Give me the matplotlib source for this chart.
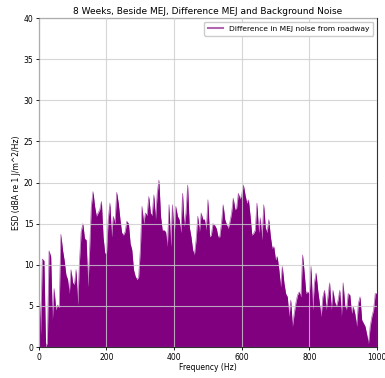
import numpy as np
import matplotlib
matplotlib.use("Agg")
import matplotlib.pyplot as plt

# Frequency bins (Hz) and the MEJ-minus-background energy spectral density (dBA)
freq_hz = np.arange(0, 1001, 5)

esd_0_175 = [8.2, 1.5, 10.7, 10.5, 0.0, 0.5, 11.7, 11.0, 3.3, 7.1,
             4.5, 5.1, 4.8, 13.7, 11.8, 10.5, 8.8, 8.2, 6.5, 9.4,
             7.8, 7.6, 9.4, 5.1, 10.4, 14.0, 15.0, 13.2, 13.0, 7.3,
             11.8, 17.1, 18.9, 17.1, 15.9, 16.3]
esd_180_355 = [16.7, 17.7, 13.4, 11.4, 11.4, 15.5, 17.5, 13.4, 15.9, 15.0,
               18.8, 17.5, 15.5, 13.9, 13.6, 14.0, 15.3, 15.0, 12.6, 11.8,
               9.4, 8.6, 8.2, 8.5, 11.8, 17.1, 15.0, 16.3, 16.0, 18.3,
               16.3, 16.0, 18.5, 15.5, 18.7, 20.3]
esd_360_535 = [15.9, 14.2, 14.2, 14.0, 12.2, 17.3, 12.2, 17.3, 13.4, 17.1,
               15.9, 15.5, 13.9, 18.7, 14.6, 16.3, 19.7, 14.6, 13.4, 11.8,
               11.2, 13.0, 15.9, 14.0, 16.3, 15.5, 15.5, 14.2, 17.9, 13.4,
               13.6, 15.0, 14.8, 14.4, 13.4, 13.4]
esd_540_710 = [15.0, 17.3, 15.5, 14.9, 14.4, 15.2, 16.3, 18.1, 16.7, 16.9,
               18.7, 18.0, 18.5, 19.7, 18.5, 17.5, 17.9, 15.9, 13.6, 13.8,
               14.2, 17.5, 13.9, 15.7, 13.0, 17.3, 14.5, 13.9, 15.5, 13.4,
               12.0, 12.2, 10.6, 11.0, 9.4]
esd_715_885 = [7.3, 9.8, 7.8, 6.5, 6.1, 3.7, 5.7, 2.5, 4.0, 5.3,
               6.3, 6.7, 6.1, 11.2, 9.0, 6.5, 6.7, 6.5, 9.8, 4.5,
               7.8, 9.0, 6.9, 5.3, 3.7, 6.1, 6.9, 4.5, 6.1, 7.8,
               4.5, 6.9, 5.5, 4.9, 5.7]
esd_890_1000 = [6.9, 3.7, 7.8, 5.0, 4.5, 6.5, 6.3, 4.1, 4.9, 4.0,
                2.5, 5.3, 6.1, 3.3, 2.9, 2.5, 1.5, 0.4, 2.5, 3.7,
                4.5, 6.5, 6.5]

esd_db = np.array(esd_0_175 + esd_180_355 + esd_360_535
                  + esd_540_710 + esd_715_885 + esd_890_1000)

fig = plt.figure(figsize=(3.85, 3.78), dpi=100)
ax = fig.add_axes([0.101, 0.082, 0.878, 0.870])

ax.plot(freq_hz, esd_db, color="purple", alpha=0.6, linewidth=0.5,
        label="Difference in MEJ noise from roadway")
ax.fill_between(freq_hz, esd_db, 0, color="purple", linewidth=0)

ax.set_xlim(0, 1000)
ax.set_ylim(0, 40)
ax.set_xticks([0, 200, 400, 600, 800, 1000])
ax.set_yticks(np.arange(0, 41, 5))
ax.grid(True, color="#cccccc", linewidth=0.8, alpha=0.8)
ax.set_axisbelow(False)

ax.tick_params(labelsize=5.5, length=2.5, width=0.6, pad=1.5)
for s in ax.spines.values():
    s.set_linewidth(0.8)
    s.set_color("#333333")

ax.set_title("8 Weeks, Beside MEJ, Difference MEJ and Background Noise",
             fontsize=6.5, pad=3)
ax.set_xlabel("Frequency (Hz)", fontsize=5.5, labelpad=1)
ax.set_ylabel("ESD (dBA re 1 J/m^2/Hz)", fontsize=5.5, labelpad=2)
leg = ax.legend(loc="upper right", fontsize=5.4, handlelength=2.0,
                framealpha=1, borderpad=0.5, edgecolor="#cccccc")
for line in leg.get_lines():
    line.set_linewidth(1.5)

fig.savefig("out.png", dpi=100)
